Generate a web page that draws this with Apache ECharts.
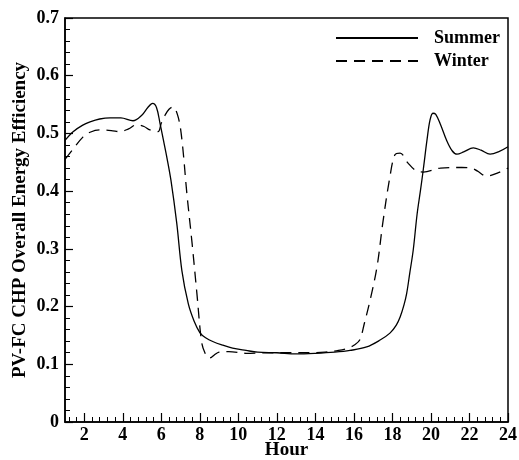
<!DOCTYPE html>
<html>
<head>
<meta charset="utf-8">
<script src="https://cdn.jsdelivr.net/npm/echarts@6/dist/echarts.min.js"></script>
<style>
html,body{margin:0;padding:0;background:#fff;}
#chart{width:519px;height:460px;}
</style>
</head>
<body>
<div id="chart"></div>
<script>
var summerHours = [1, 1.42, 1.9, 2.3, 2.8, 3.34, 3.9, 4.53, 5.0, 5.3, 5.55, 5.75, 5.93, 6.1, 6.28, 6.5, 6.8, 7.07, 7.4, 7.7, 8.0, 8.3, 8.7, 9.2, 9.7, 10.4, 11.0, 12.0, 13.0, 14.0, 15.0, 15.8, 16.66, 17.36, 17.87, 18.2, 18.4, 18.6, 18.74, 18.9, 19.08, 19.28, 19.45, 19.6, 19.8, 19.95, 20.1, 20.25, 20.5, 20.8, 21.1, 21.35, 21.7, 22.2, 22.6, 23.07, 23.5, 24];
var summerValues = [0.488, 0.503, 0.514, 0.520, 0.525, 0.527, 0.527, 0.522, 0.532, 0.545, 0.552, 0.545, 0.518, 0.490, 0.460, 0.419, 0.345, 0.262, 0.205, 0.175, 0.155, 0.146, 0.139, 0.133, 0.128, 0.124, 0.121, 0.120, 0.118, 0.119, 0.121, 0.124, 0.130, 0.142, 0.154, 0.168, 0.182, 0.203, 0.223, 0.258, 0.298, 0.360, 0.400, 0.437, 0.490, 0.523, 0.535, 0.533, 0.515, 0.489, 0.470, 0.464, 0.468, 0.475, 0.471, 0.464, 0.468, 0.477];

var winterHours = [1, 1.42, 1.94, 2.3, 2.8, 3.4, 3.86, 4.3, 4.72, 5.1, 5.41, 5.83, 6.0, 6.2, 6.4, 6.6, 6.87, 7.07, 7.33, 7.6, 7.85, 8.1, 8.3, 8.45, 8.6, 8.75, 9.0, 9.5, 10.4, 11.5, 12.5, 13.5, 14.5, 15.2, 15.7, 16.0, 16.3, 16.55, 16.84, 17.2, 17.5, 17.87, 18.13, 18.4, 18.8, 19.2, 19.6, 20.5, 21.6, 22.1, 22.4, 22.9, 23.5, 24];
var winterValues = [0.455, 0.473, 0.494, 0.502, 0.506, 0.505, 0.503, 0.508, 0.515, 0.512, 0.506, 0.503, 0.518, 0.532, 0.542, 0.546, 0.529, 0.489, 0.395, 0.309, 0.222, 0.137, 0.117, 0.111, 0.112, 0.116, 0.121, 0.122, 0.119, 0.120, 0.120, 0.120, 0.121, 0.124, 0.128, 0.133, 0.142, 0.172, 0.211, 0.269, 0.345, 0.425, 0.463, 0.466, 0.449, 0.436, 0.433, 0.440, 0.441, 0.440, 0.435, 0.426, 0.432, 0.440];

var seriesNames = ['Summer', 'Winter'];
var xTitle = 'Hour';
var yTitle = 'PV-FC CHP Overall Energy Efficiency';
var xTickLabels = [2, 4, 6, 8, 10, 12, 14, 16, 18, 20, 22, 24];
var xRange = [1, 24];
var yRange = [0, 0.7];
var yStep = 0.1;

function pairs(xs, ys) {
  var out = [];
  for (var i = 0; i < xs.length; i++) out.push([xs[i], ys[i]]);
  return out;
}
// minor tick positions: 4 evenly spaced ticks between each pair of major ticks
function minorTicks(majors, lo, hi) {
  var out = [];
  var step = (majors[1] - majors[0]) / 5;
  for (var v = majors[0] - step; v > lo + 1e-9; v -= step) out.push(+v.toFixed(4));
  for (var i = 0; i < majors.length - 1; i++) {
    for (var k = 1; k < 5; k++) out.push(+(majors[i] + k * step).toFixed(4));
  }
  return out;
}

var FONT = "'Liberation Serif', 'Times New Roman', serif";
var chart = echarts.init(document.getElementById('chart'), null, {renderer: 'canvas'});
chart.setOption({
  animation: false,
  backgroundColor: '#fff',
  grid: {left: 65, right: 11, top: 18, bottom: 38, show: true, borderColor: '#000', borderWidth: 1.5, outerBoundsMode: 'none', containLabel: false},
  legend: {
    orient: 'vertical',
    left: 330,
    top: 24,
    itemWidth: 82,
    itemHeight: 14,
    itemGap: 5,
    itemStyle: {opacity: 0},
    textStyle: {fontFamily: FONT, fontWeight: 'bold', fontSize: 18, color: '#000', padding: [0, 0, 0, 11]},
    data: seriesNames
  },
  xAxis: [{
    type: 'value',
    min: xRange[0],
    max: xRange[1],
    name: xTitle,
    nameLocation: 'middle',
    nameGap: 19,
    nameMoveOverlap: false,
    nameTextStyle: {fontFamily: FONT, fontWeight: 'bold', fontSize: 19, color: '#000'},
    axisLine: {show: true, lineStyle: {color: '#000', width: 1.5}},
    axisTick: {show: true, inside: true, length: 9, customValues: xTickLabels, lineStyle: {color: '#000', width: 1.2}},
    axisLabel: {
      customValues: xTickLabels,
      margin: 4,
      fontFamily: FONT, fontWeight: 'bold', fontSize: 18, color: '#000'
    },
    splitLine: {show: false}
  }, {
    type: 'value',
    position: 'bottom',
    min: xRange[0],
    max: xRange[1],
    axisLine: {show: false},
    axisTick: {show: true, inside: true, length: 5, customValues: minorTicks(xTickLabels, xRange[0], xRange[1]), lineStyle: {color: '#000', width: 1}},
    axisLabel: {show: false},
    splitLine: {show: false}
  }],
  yAxis: {
    type: 'value',
    min: yRange[0],
    max: yRange[1],
    interval: yStep,
    name: yTitle,
    nameLocation: 'middle',
    nameGap: 35,
    nameMoveOverlap: false,
    nameTextStyle: {fontFamily: FONT, fontWeight: 'bold', fontSize: 19, color: '#000'},
    axisLine: {show: true, lineStyle: {color: '#000', width: 1.5}},
    axisTick: {show: true, inside: true, length: 8, lineStyle: {color: '#000', width: 1.2}},
    minorTick: {show: true, splitNumber: 5, length: 5, lineStyle: {color: '#000', width: 1}},
    axisLabel: {
      margin: 6,
      fontFamily: FONT, fontWeight: 'bold', fontSize: 18, color: '#000',
      formatter: function (v) { return String(Math.round(v * 10) / 10); }
    },
    splitLine: {show: false}
  },
  series: [
    {
      name: seriesNames[0],
      type: 'line',
      xAxisIndex: 0,
      data: pairs(summerHours, summerValues),
      smooth: 0.35,
      showSymbol: false,
      symbol: 'none',
      lineStyle: {color: '#000', width: 1.3, type: 'solid'},
      itemStyle: {color: '#000'}
    },
    {
      name: seriesNames[1],
      type: 'line',
      xAxisIndex: 0,
      data: pairs(winterHours, winterValues),
      smooth: 0.35,
      showSymbol: false,
      symbol: 'none',
      lineStyle: {color: '#000', width: 1.3, type: [11, 7]},
      itemStyle: {color: '#000'}
    }
  ]
});
</script>
</body>
</html>
